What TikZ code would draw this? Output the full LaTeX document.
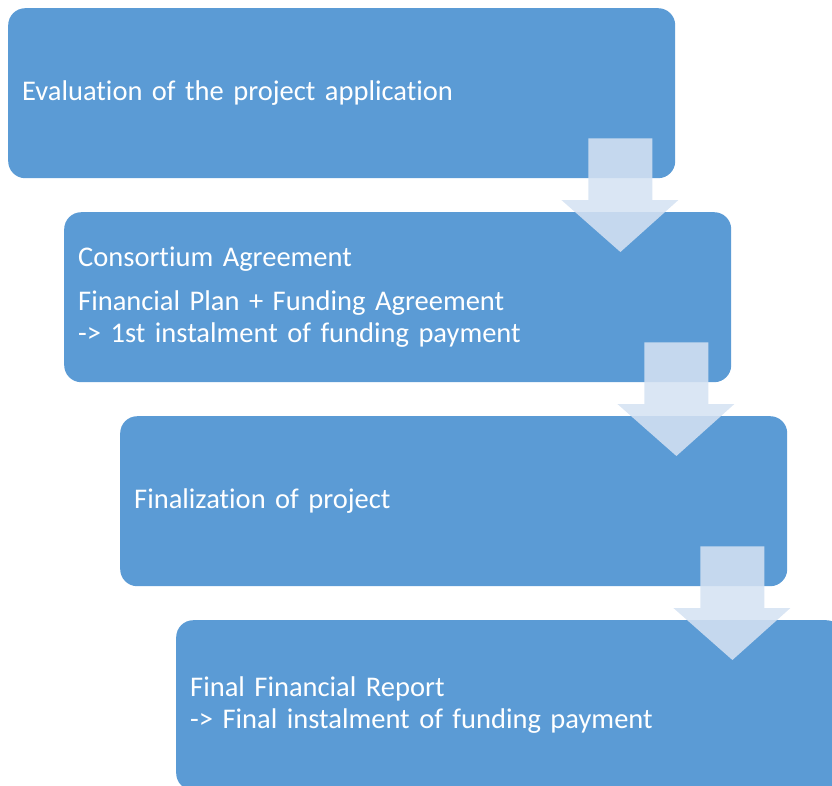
\documentclass[tikz,border=0pt]{standalone}
\usepackage{fontspec}
\setmainfont{Carlito}[Ligatures={NoCommon}]
\usetikzlibrary{calc}
\definecolor{stepblue}{RGB}{91,155,213}
\definecolor{arrowblue}{RGB}{213,226,242}
\tikzset{
    stepbox/.style={anchor=north west, fill=stepblue, rounded corners=17pt,
        minimum width=667pt, minimum height=170pt, text width=639pt,
        inner xsep=14pt, align=left, text=white,
        font=\fontsize{28.5}{32}\selectfont},
    flowarrow/.style={fill=arrowblue, fill opacity=.87}
}
\begin{document}
\begin{tikzpicture}[x=1pt, y=1pt]
\useasboundingbox (0,0) rectangle (832,-785);
\clip (0,0) rectangle (832,-785);

\node[stepbox] (eval) at (8,-8) {Evaluation of the project application};
\node[stepbox] (cons) at (64,-212) {Consortium Agreement\\[12pt]Financial Plan + Funding Agreement\\-> 1st instalment of funding payment};
\node[stepbox] (fin) at (120,-416) {Finalization of project};
\node[stepbox] (rep) at (176,-620) {Final Financial Report\\-> Final instalment of funding payment};

% block arrows between the steps
\foreach \a/\b in {eval/cons, cons/fin, fin/rep}
{
    \coordinate (t) at (\a.south east |- \b.north west);
    \fill[flowarrow] ($(\a.south east)+(-87,40)$) -- ($(\a.south east)+(-23,40)$)
        -- ($(t)+(-23,12)$) -- ($(t)+(3,12)$) -- ($(t)+(-55,-40)$)
        -- ($(t)+(-114,12)$) -- ($(t)+(-87,12)$) -- cycle;
}

\end{tikzpicture}
\end{document}
